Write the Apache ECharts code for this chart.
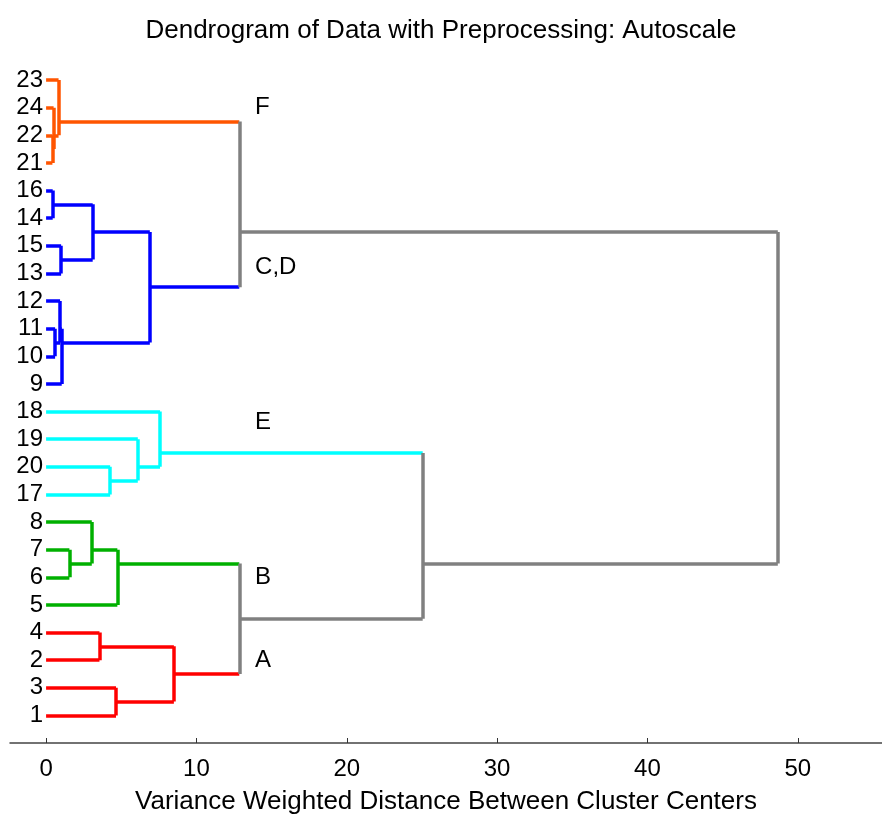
<!DOCTYPE html>
<html>
<head>
<meta charset="utf-8">
<script src="https://cdn.jsdelivr.net/npm/echarts@6/dist/echarts.min.js"></script>
<style>html,body{margin:0;padding:0;background:#fff;}#c{width:882px;height:814px;}</style>
</head>
<body>
<div id="c"></div>
<script>
// Leaf order from bottom (position 1) to top (position 24)
var leafOrder = [1,3,2,4,5,6,7,8,17,20,19,18,9,10,11,12,13,15,14,16,21,22,24,23];
// Linkage: node 25.. created in this order; children are leaf ids (1-24) or node ids (25+)
var mergeLeft   = [4, 3, 25, 7, 8, 29, 30, 20, 19, 18, 34, 16, 15, 36, 11, 12, 40, 38, 22, 24, 23, 45, 46];
var mergeRight  = [2, 1, 26, 6, 28, 5, 27, 17, 32, 33, 31, 14, 13, 37, 10, 39, 9, 41, 21, 43, 44, 42, 35];
var mergeHeight = [3.55, 4.65, 8.5, 1.55, 3.04, 4.74, 12.85, 4.26, 6.1, 7.58, 25.05, 0.44, 1.0, 3.1, 0.6, 0.93, 1.04, 6.9, 0.42, 0.5, 0.83, 12.85, 48.67];
var mergeGroup  = ['A','A','A','B','B','B','top','E','E','E','top','CD','CD','CD','CD','CD','CD','CD','F','F','F','top','top'];
// Cluster labels
var clusterNames = ['F', 'C,D', 'E', 'B', 'A'];
var clusterX     = [13.9, 13.9, 13.9, 13.9, 13.9];
var clusterY     = [23.0, 17.2, 11.6, 6.0, 3.0];
var xTicks = [0, 10, 20, 30, 40, 50];

var groupColor = {A:'#ff0000', B:'#00b000', E:'#00ffff', CD:'#0000ff', F:'#ff5500', top:'#808080'};

// compute node positions: y = mean of leaf positions, x = merge height
var nodeY = {}, nodeX = {}, nodeLeaves = {}, nodeColor = {};
leafOrder.forEach(function (leaf, i) { nodeY[leaf] = i + 1; nodeX[leaf] = 0; nodeLeaves[leaf] = [i + 1]; });
var segs = [];
for (var k = 0; k < mergeLeft.length; k++) {
  var id = 25 + k, a = mergeLeft[k], b = mergeRight[k], h = mergeHeight[k];
  var col = groupColor[mergeGroup[k]];
  var leaves = nodeLeaves[a].concat(nodeLeaves[b]);
  nodeLeaves[id] = leaves;
  nodeY[id] = leaves.reduce(function (s, v) { return s + v; }, 0) / leaves.length;
  nodeX[id] = h;
  nodeColor[id] = col;
  [a, b].forEach(function (c) {
    var cc = c <= 24 ? col : nodeColor[c];
    segs.push({coords: [[nodeX[c], nodeY[c]], [h, nodeY[c]]], lineStyle: {color: cc}});
  });
  segs.push({coords: [[h, nodeY[a]], [h, nodeY[b]]], lineStyle: {color: col}});
}

var chart = echarts.init(document.getElementById('c'), null, {renderer: 'canvas'});
var font = 'Liberation Sans, Arial, sans-serif';
chart.setOption({
  animation: false,
  backgroundColor: '#fff',
  title: {
    text: 'Dendrogram of Data with Preprocessing: Autoscale',
    left: 'center', top: 13,
    textStyle: {fontFamily: font, fontSize: 26, fontWeight: 'normal', color: '#000'}
  },
  grid: {left: 10, right: 0, top: 52.4, bottom: 71, containLabel: false, outerBoundsMode: 'none'},
  xAxis: {
    type: 'value', min: -2.4, max: 55.6,
    name: 'Variance Weighted Distance Between Cluster Centers',
    nameLocation: 'middle', nameGap: 46,
    nameTextStyle: {fontFamily: font, fontSize: 26, color: '#000'},
    axisLine: {show: true, onZero: false, lineStyle: {color: '#444', width: 1.5}},
    axisTick: {show: true, inside: true, length: 5, customValues: xTicks, lineStyle: {color: '#333'}},
    axisLabel: {customValues: xTicks, margin: 14, fontFamily: font, fontSize: 24, color: '#000'},
    splitLine: {show: false}
  },
  yAxis: {
    type: 'value', min: 0, max: 25,
    offset: -36,
    axisLine: {show: false, onZero: false},
    axisTick: {show: false},
    splitLine: {show: false},
    axisLabel: {
      customValues: leafOrder.map(function (v, i) { return i + 1; }),
      formatter: function (v) { return String(leafOrder[Math.round(v) - 1]); },
      margin: 3, fontFamily: font, fontSize: 24, color: '#000'
    }
  },
  series: [
    {
      type: 'lines', coordinateSystem: 'cartesian2d', polyline: false,
      lineStyle: {width: 3.5, opacity: 1},
      data: segs, silent: true
    },
    {
      type: 'scatter', symbolSize: 0, silent: true,
      data: clusterNames.map(function (n, i) { return {name: n, value: [clusterX[i], clusterY[i]]}; }),
      itemStyle: {color: '#000', opacity: 1},
      label: {show: true, position: 'right', distance: 0, formatter: '{b}', fontFamily: font, fontSize: 24, color: '#000', opacity: 1, textBorderWidth: 0}
    }
  ]
});
</script>
</body>
</html>
